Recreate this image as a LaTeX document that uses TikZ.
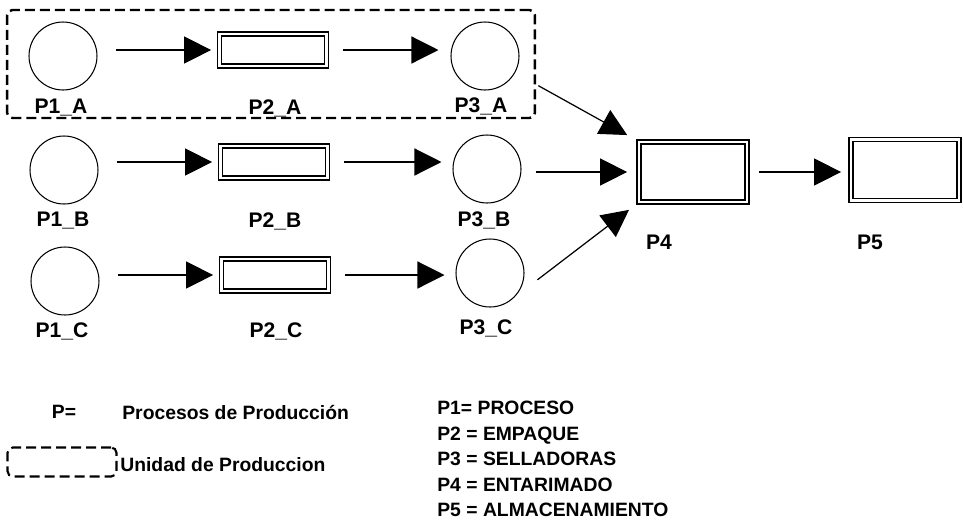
\documentclass[tikz,border=0pt]{standalone}
\usepackage{fontspec}
\setmainfont{Liberation Sans}
\usepackage{tikz}
\usetikzlibrary{positioning,arrows.meta,shapes.geometric}

\begin{document}
\begin{tikzpicture}[
  x=0.02cm, y=-0.02cm,
  lugar/.style={draw, circle, line width=0.6pt, minimum size=1.36cm, inner sep=0pt},
  caja/.style={draw, line width=1pt, double=white, double distance=1.4pt, inner sep=0pt},
  etiqueta/.style={font=\bfseries\fontsize{12}{14}\selectfont, inner sep=0pt},
  leyenda/.style={font=\bfseries\fontsize{11}{14.5}\selectfont, inner sep=0pt},
  unidad/.style={draw, dash pattern=on 0.2cm off 0.1cm, line width=1.4pt, rounded corners=3pt, inner sep=0pt},
  flecha/.style={-{Triangle[length=0.54cm, width=0.54cm]}, line width=0.7pt},
]
\useasboundingbox (0,0) rectangle (964,525);

% Unidad de produccion A
\node[unidad, minimum width=10.56cm, minimum height=2.16cm] (uA) at (271,64) {};

% Fila A
\node[lugar] (p1a) at (63,56) {};
\node[caja, minimum width=2.14cm, minimum height=0.64cm] (p2a) at (273,50) {};
\node[lugar] (p3a) at (485,56) {};
\node[etiqueta] (tp1a) at (61,108) {P1\_A};
\node[etiqueta] (tp2a) at (275,108) {P2\_A};
\node[etiqueta] (tp3a) at (481,106) {P3\_A};

% Fila B
\node[lugar] (p1b) at (64,170) {};
\node[caja, minimum width=2.14cm, minimum height=0.64cm] (p2b) at (274,162) {};
\node[lugar] (p3b) at (487,169) {};
\node[etiqueta] (tp1b) at (63,221) {P1\_B};
\node[etiqueta] (tp2b) at (275,221) {P2\_B};
\node[etiqueta] (tp3b) at (484,220) {P3\_B};

% Fila C
\node[lugar] (p1c) at (65,281) {};
\node[caja, minimum width=2.14cm, minimum height=0.64cm] (p2c) at (275,275) {};
\node[lugar] (p3c) at (490,273) {};
\node[etiqueta] (tp1c) at (62,331) {P1\_C};
\node[etiqueta] (tp2c) at (276,331) {P2\_C};
\node[etiqueta] (tp3c) at (486,328) {P3\_C};

% Entarimado y almacenamiento
\node[caja, minimum width=2.16cm, minimum height=1.2cm] (p4) at (693,172) {};
\node[caja, minimum width=2.16cm, minimum height=1.22cm] (p5) at (905,170) {};
\node[etiqueta] (tp4) at (659,242) {P4};
\node[etiqueta] (tp5) at (870,242) {P5};

% Flechas
\draw[flecha, shorten <=0.36cm, shorten >=0.15cm] (p1a.east |- p2a.west) -- (p2a.west);
\draw[flecha, shorten <=0.32cm, shorten >=0.24cm] (p2a.east) -- (p3a.west |- p2a.east);
\draw[flecha, shorten <=0.36cm, shorten >=0.15cm] (p1b.east |- p2b.west) -- (p2b.west);
\draw[flecha, shorten <=0.32cm, shorten >=0.22cm] (p2b.east) -- (p3b.west |- p2b.east);
\draw[flecha, shorten <=0.36cm, shorten >=0.15cm] (p1c.east |- p2c.west) -- (p2c.west);
\draw[flecha, shorten <=0.32cm, shorten >=0.22cm] (p2c.east) -- (p3c.west |- p2c.east);

\draw[flecha, shorten <=0.53cm, shorten >=0.25cm] (p3a) -- (p4.north west);
\draw[flecha, shorten <=0.28cm, shorten >=0.22cm] (p3b.east |- p4.west) -- (p4.west);
\draw[flecha, shorten <=0.58cm, shorten >=0.23cm] (p3c.south east) -- (p4.south west);
\draw[flecha, shorten <=0.22cm, shorten >=0.18cm] (p4.east) -- (p5.west |- p4.east);

% Leyenda
\node[leyenda] (pigual) at (64,412) {P=};
\node[leyenda, anchor=west] (procesos) at (122,412) {Procesos de Producción};
\node[unidad, minimum width=2.18cm, minimum height=0.58cm, line width=1.2pt] (uley) at (62,462) {};
\node[leyenda, anchor=west] (unidadtxt) at (120,465) {Unidad de Produccion};
\node[leyenda, anchor=west, align=left] (lista) at (437,459) {P1= PROCESO\\P2 = EMPAQUE\\P3 = SELLADORAS\\P4 = ENTARIMADO\\P5 = ALMACENAMIENTO};

\end{tikzpicture}
\end{document}
